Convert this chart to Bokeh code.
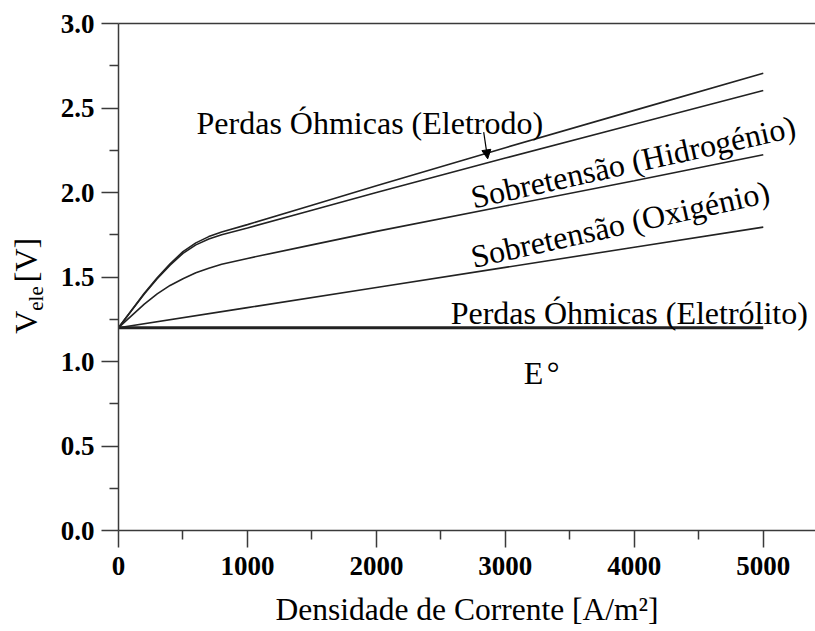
import numpy as np
from bokeh.plotting import figure
from bokeh.layouts import row
from bokeh.models import (LinearAxis, Range1d, FixedTicker, PrintfTickFormatter,
                          Arrow, NormalHead)
from bokeh.core.properties import value
from bokeh.embed import file_html
from bokeh.resources import INLINE

# Densidade de corrente [A/m²] e tensão acumulada do electrolisador [V]
j_e0 = [0, 5000]
v_e0 = [1.2, 1.2]

j_eletrolito = [0, 1000, 2000, 3000, 4000, 5000]
v_eletrolito = [1.2, 1.319, 1.438, 1.557, 1.676, 1.795]

j_curvas = [0, 100, 200, 300, 400, 500, 600, 700, 800, 1000, 1500, 2000, 3000, 4000, 5000]
v_oxigenio = [1.2, 1.27, 1.34, 1.40, 1.45, 1.49, 1.525, 1.552, 1.575, 1.61, 1.69, 1.77, 1.92, 2.07, 2.223]
v_hidrogenio = [1.2, 1.30, 1.40, 1.49, 1.57, 1.64, 1.69, 1.725, 1.75, 1.79, 1.895, 2.0, 2.204, 2.404, 2.604]
v_eletrodo = [1.2, 1.302, 1.404, 1.496, 1.578, 1.65, 1.702, 1.739, 1.766, 1.81, 1.925, 2.04, 2.265, 2.486, 2.706]

x_ticks = [0, 1000, 2000, 3000, 4000, 5000]
x_minor = [500, 1500, 2500, 3500, 4500]
y_ticks = [0.0, 0.5, 1.0, 1.5, 2.0, 2.5, 3.0]
y_minor = [0.25, 0.75, 1.25, 1.75, 2.25, 2.75]

SERIF = "Liberation Serif"
AXIS_COLOR = "#3a3a3a"
LINE_COLOR = "#222222"

y_range = Range1d(0, 3)

p = figure(width=765, height=631, x_range=Range1d(0, 5405), y_range=y_range,
           output_backend="svg", toolbar_location=None,
           min_border_left=68, min_border_right=0, min_border_top=23, min_border_bottom=101)
p.outline_line_color = None
p.grid.visible = False
p.background_fill_color = "white"
p.border_fill_color = "white"

# curvas
p.line(j_e0, v_e0, line_color=LINE_COLOR, line_width=3)
p.line(j_eletrolito, v_eletrolito, line_color=LINE_COLOR, line_width=1.6)
p.line(j_curvas, v_oxigenio, line_color=LINE_COLOR, line_width=1.6)
p.line(j_curvas, v_hidrogenio, line_color=LINE_COLOR, line_width=1.6)
p.line(j_curvas, v_eletrodo, line_color=LINE_COLOR, line_width=1.6)

# eixos
xa = p.xaxis[0]
ya = p.yaxis[0]
xa.ticker = FixedTicker(ticks=x_ticks, minor_ticks=x_minor)
ya.ticker = FixedTicker(ticks=y_ticks, minor_ticks=y_minor)
ya.formatter = PrintfTickFormatter(format="%.1f")
for ax in (xa, ya):
    ax.axis_line_color = AXIS_COLOR
    ax.axis_line_width = 1.5
    ax.major_tick_line_color = AXIS_COLOR
    ax.minor_tick_line_color = AXIS_COLOR
    ax.major_tick_line_width = 1.5
    ax.minor_tick_line_width = 1.5
    ax.major_tick_in = 0
    ax.major_tick_out = 17
    ax.minor_tick_in = 0
    ax.minor_tick_out = 9
    ax.major_label_text_font = SERIF
    ax.major_label_text_font_style = "bold"
    ax.major_label_text_font_size = "27px"
    ax.major_label_text_color = "black"
xa.major_label_standoff = 9
ya.major_label_standoff = 7

xa.axis_label = "Densidade de Corrente [A/m²]"
xa.axis_label_text_font = SERIF
xa.axis_label_text_font_style = "normal"
xa.axis_label_text_font_size = "31.5px"
xa.axis_label_text_color = "black"
xa.axis_label_standoff = 14

top = LinearAxis(ticker=FixedTicker(ticks=[]), axis_line_color=AXIS_COLOR, axis_line_width=1.5,
                 major_tick_line_color=None, minor_tick_line_color=None,
                 major_label_text_font_size="0px")
p.add_layout(top, "above")

# legendas das curvas
txt = dict(text_font=value(SERIF), text_font_size="32px", text_color="black",
           text_align="left", text_baseline="alphabetic")
p.text(x=[605], y=[2.41], text=["Perdas Óhmicas (Eletrodo)"], **txt)
p.text(x=[2736], y=[1.969], text=["Sobretensão (Hidrogénio)"], angle=np.radians(12.5), **txt)
p.text(x=[2736], y=[1.617], text=["Sobretensão (Oxigénio)"], angle=np.radians(12.5), **txt)
p.text(x=[2576], y=[1.286], text=["Perdas Óhmicas (Eletrólito)"], **txt)
p.text(x=[3142], y=[0.931], text=["E"], **txt)
p.text(x=[3320], y=[0.931], text=["°"], **txt)

p.add_layout(Arrow(end=NormalHead(size=9, fill_color="black", line_color="black"),
                   x_start=2832, y_start=2.357, x_end=2863, y_end=2.199,
                   line_color="black", line_width=1.2))

# faixa à esquerda com o título do eixo y: V_ele [V] (texto rodado, centrado em cada ponto)
t = figure(width=50, height=631, x_range=Range1d(0, 50), y_range=y_range,
           output_backend="svg", toolbar_location=None,
           x_axis_type=None, y_axis_type=None,
           min_border_left=0, min_border_right=0, min_border_top=23, min_border_bottom=101)
t.outline_line_color = None
t.grid.visible = False
t.background_fill_color = "white"
t.border_fill_color = "white"
rot = dict(angle=np.pi / 2, text_font=value(SERIF), text_color="black",
           text_align="center", text_baseline="middle")
t.text(x=[25], y=[1.233], text=["V"], text_font_size="32px", **rot)
t.text(x=[35.5], y=[1.373], text=["ele"], text_font_size="21px", **rot)
t.text(x=[25], y=[1.601], text=["[V]"], text_font_size="32px", **rot)

layout = row(t, p, spacing=0)
open("out.html", "w").write(file_html(layout, INLINE))
